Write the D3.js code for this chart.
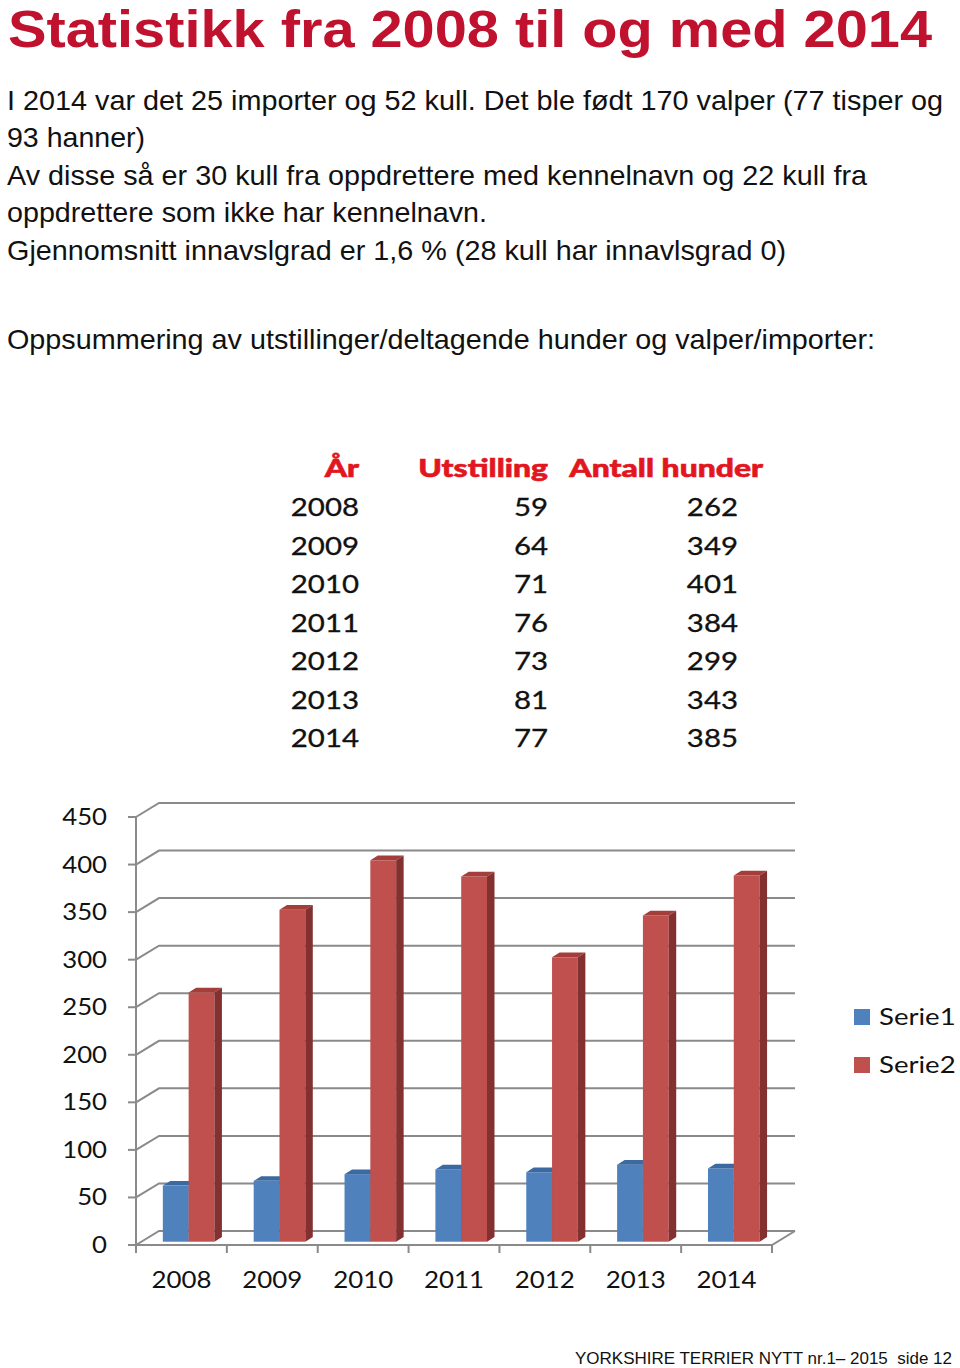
<!DOCTYPE html>
<html>
<head>
<meta charset="utf-8">
<script src="https://cdn.jsdelivr.net/npm/d3@7"></script>
<style>
  html, body { margin: 0; padding: 0; background: #fff; }
  svg { display: block; }
</style>
</head>
<body>
<svg id="page" width="960" height="1368"></svg>
<script>
// ---------- data ----------
const years = ["2008", "2009", "2010", "2011", "2012", "2013", "2014"];
const utstilling = [59, 64, 71, 76, 73, 81, 77];          // Serie1
const antallHunder = [262, 349, 401, 384, 299, 343, 385]; // Serie2
const seriesNames = ["Serie1", "Serie2"];
const yTicks = [0, 50, 100, 150, 200, 250, 300, 350, 400, 450];
const tableHeaders = ["År", "Utstilling", "Antall hunder"];

const titleText = "Statistikk fra 2008 til og med 2014";
const bodyLines = [
  "I 2014 var det 25 importer og 52 kull. Det ble født 170 valper (77 tisper og",
  "93 hanner)",
  "Av disse så er 30 kull fra oppdrettere med kennelnavn og 22 kull fra",
  "oppdrettere som ikke har kennelnavn.",
  "Gjennomsnitt innavslgrad er 1,6 % (28 kull har innavlsgrad 0)",
  "Oppsummering av utstillinger/deltagende hunder og valper/importer:"
];
const footerText = "YORKSHIRE TERRIER NYTT nr.1\u2013 2015  side 12";

// ---------- layout / style ----------
const svg = d3.select("#page");
const colors = {
  s1: { front: "#4F81BD", top: "#3B6AA3", side: "#2F5688" },
  s2: { front: "#C0504D", top: "#A33E3B", side: "#833130" },
  grid: "#8A8A8A",
  title: "#C0112F",
  header: "#E2161F"
};

// Title
svg.append("text")
  .attr("x", 8).attr("y", 47)
  .attr("font-family", "'Liberation Sans', Arial, sans-serif")
  .attr("font-weight", "bold")
  .attr("font-size", 52)
  .attr("fill", colors.title)
  .attr("textLength", 924)
  .attr("lengthAdjust", "spacingAndGlyphs")
  .text(titleText);

// Body text
const bodyY = [110, 147, 185, 222, 260, 349];
const bodyW = [936, 138, 860, 480, 779, 868];
svg.selectAll("text.body").data(bodyLines).join("text")
  .attr("class", "body")
  .attr("x", 7)
  .attr("y", (d, i) => bodyY[i])
  .attr("font-family", "'Liberation Sans', Arial, sans-serif")
  .attr("font-size", 28)
  .attr("fill", "#111")
  .attr("textLength", (d, i) => bodyW[i])
  .attr("lengthAdjust", "spacingAndGlyphs")
  .text(d => d);

// Footer
svg.append("text")
  .attr("x", 575).attr("y", 1364)
  .attr("font-family", "'Liberation Sans', Arial, sans-serif")
  .attr("font-size", 17)
  .attr("fill", "#111")
  .attr("textLength", 377)
  .attr("lengthAdjust", "spacingAndGlyphs")
  .attr("xml:space", "preserve")
  .text(footerText);

// ---------- table ----------
const chartFont = "Lato, 'Open Sans', sans-serif";
const tableG = svg.append("g");
const colRight = [359, 548, 738];
const headRight = [359, 548, 763];
const rowY = d3.scaleLinear().domain([0, 6]).range([516, 747]);
function stretchText(g, x, y, txt, opts) {
  g.append("text")
    .attr("transform", `translate(${x},${y}) scale(${opts.sx},1)`)
    .attr("text-anchor", opts.anchor || "end")
    .attr("font-family", chartFont)
    .attr("font-weight", opts.weight || "normal")
    .attr("font-size", opts.size)
    .attr("fill", opts.fill || "#111")
    .attr("stroke", opts.stroke || "none")
    .attr("stroke-width", opts.strokeW || 0)
    .text(txt);
}
tableHeaders.forEach((h, i) =>
  stretchText(tableG, headRight[i], 477, h, { sx: 1.3, size: 24.5, weight: "900", fill: colors.header, stroke: colors.header, strokeW: 0.6 }));
years.forEach((yr, i) => {
  stretchText(tableG, colRight[0], rowY(i), yr, { sx: 1.2, size: 24.5, stroke: "#111", strokeW: 0.3 });
  stretchText(tableG, colRight[1], rowY(i), String(utstilling[i]), { sx: 1.2, size: 24.5, stroke: "#111", strokeW: 0.3 });
  stretchText(tableG, colRight[2], rowY(i), String(antallHunder[i]), { sx: 1.2, size: 24.5, stroke: "#111", strokeW: 0.3 });
});

// ---------- 3D column chart ----------
const x = d3.scaleBand().domain(years).range([136, 772]).paddingInner(0).paddingOuter(0);
const y = d3.scaleLinear().domain([0, 450]).range([1245, 817]);
const DX = 23, DY = -14;         // wall depth
const barDX = 5.5, barDY = -3.3; // bar plane offset from front
const dX = 7.5, dY = -4.7;       // bar depth
const barW = 25.8, pairShift = 1.7;

const chart = svg.append("g");
const grid = chart.append("g")
  .attr("fill", "none").attr("stroke", colors.grid).attr("stroke-width", 2);

// gridlines on back wall + side wall diagonals
yTicks.forEach(v => {
  const yy = y(v);
  grid.append("path")
    .attr("d", `M${x.range()[0]},${yy} L${x.range()[0] + DX},${yy + DY} L${x.range()[1] + DX},${yy + DY}`);
});
// floor front edge and right diagonal
grid.append("path")
  .attr("d", `M${x.range()[0]},${y(0)} L${x.range()[1]},${y(0)} L${x.range()[1] + DX},${y(0) + DY}`);
// y axis line
grid.append("path").attr("d", `M${x.range()[0]},${y(450)} L${x.range()[0]},${y(0) + 8}`);
// y ticks
yTicks.forEach(v => grid.append("path").attr("d", `M${x.range()[0] - 8},${y(v)} L${x.range()[0]},${y(v)}`));
// x ticks at category boundaries
const bounds = years.map(c => x(c)).concat([x.range()[1]]);
bounds.forEach(b => grid.append("path").attr("d", `M${b},${y(0)} L${b},${y(0) + 8}`));

// y axis labels
yTicks.forEach(v => {
  chart.append("text")
    .attr("transform", `translate(107,${y(v) + 8}) scale(1.12,1)`)
    .attr("text-anchor", "end")
    .attr("font-family", chartFont)
    .attr("font-size", 23)
    .attr("fill", "#111")
    .text(v);
});
// x axis labels
years.forEach(c => {
  chart.append("text")
    .attr("transform", `translate(${x(c) + x.bandwidth() / 2},1288) scale(1.15,1)`)
    .attr("text-anchor", "middle")
    .attr("font-family", chartFont)
    .attr("font-size", 22.5)
    .attr("fill", "#111")
    .text(c);
});

// bars
const bars = chart.append("g");
function bar3d(x0, v, c) {
  const yb = y(0) + barDY;
  const yt = y(v) + barDY;
  const g = bars.append("g");
  g.append("rect").attr("x", x0).attr("y", yt).attr("width", barW).attr("height", yb - yt).attr("fill", c.front);
  g.append("path").attr("fill", c.top)
    .attr("d", `M${x0},${yt} L${x0 + dX},${yt + dY} L${x0 + barW + dX},${yt + dY} L${x0 + barW},${yt} Z`);
  g.append("path").attr("fill", c.side)
    .attr("d", `M${x0 + barW},${yt} L${x0 + barW + dX},${yt + dY} L${x0 + barW + dX},${yb + dY} L${x0 + barW},${yb} Z`);
}
years.forEach((c, i) => {
  const center = x(c) + x.bandwidth() / 2 + barDX + pairShift;
  bar3d(center - barW, utstilling[i], colors.s1);
  bar3d(center, antallHunder[i], colors.s2);
});

// legend
const legend = chart.append("g");
seriesNames.forEach((n, i) => {
  const ly = 1009 + i * 48;
  legend.append("rect").attr("x", 854).attr("y", ly).attr("width", 16).attr("height", 16)
    .attr("fill", i === 0 ? colors.s1.front : colors.s2.front);
  legend.append("text")
    .attr("transform", `translate(879,${ly + 16}) scale(1.2,1)`)
    .attr("font-family", chartFont)
    .attr("font-size", 23)
    .attr("fill", "#111")
    .text(n);
});
</script>
</body>
</html>
